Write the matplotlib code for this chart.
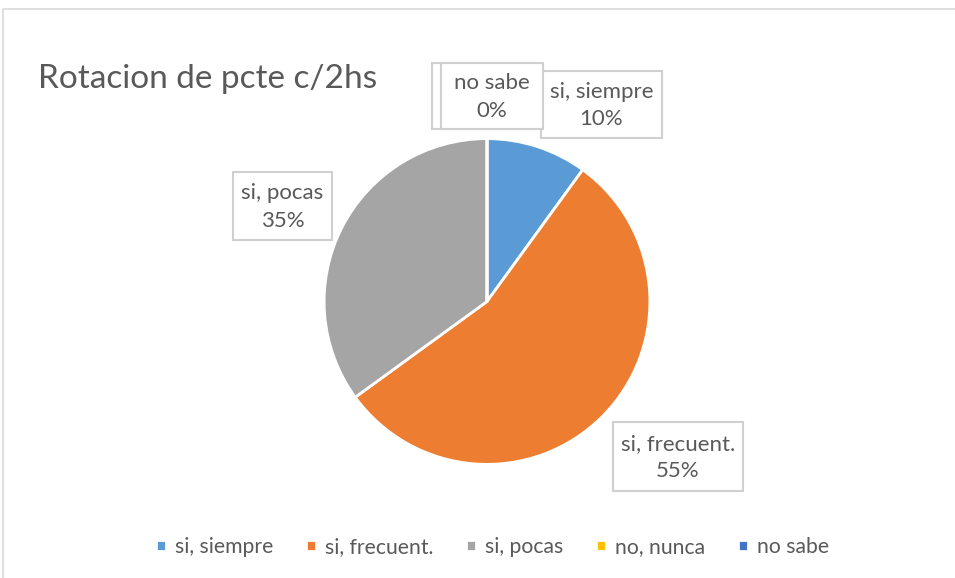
import matplotlib
matplotlib.use("Agg")
from matplotlib import pyplot as plt
from matplotlib.patches import Rectangle

# datos
categorias = ['si, siempre', 'si, frecuent.', 'si, pocas', 'no, nunca', 'no sabe']
valores = [10, 55, 35, 0, 0]
colores = ['#5B9BD5', '#ED7D31', '#A5A5A5', '#FFC000', '#4472C4']
titulo = 'Rotacion de pcte c/2hs'

# cajas de etiquetas (x0, y0, x1, y1 en pixeles desde arriba-izquierda)
# la de "no, nunca" queda tapada por la de "no sabe"
cajas = {
	'no, nunca': (432, 63, 533, 129),
	'no sabe': (441, 63, 543, 129),
	'si, siempre': (541, 71, 662, 138),
	'si, pocas': (233, 172, 332, 240),
	'si, frecuent.': (613, 422, 743, 491),
}
ocultas = ['no, nunca']

plt.rcParams['font.family'] = ['Lato', 'DejaVu Sans']
W, H = 955, 578
fig = plt.figure(figsize=(W / 100, H / 100), dpi=100)

# pie
cx, cy, r = 487, 301.5, 164.5
ax = fig.add_axes([(cx - r) / W, 1 - (cy + r) / H, 2 * r / W, 2 * r / H])
wedges, _ = ax.pie(valores, colors=colores, startangle=90, counterclock=False,
	radius=1, wedgeprops=dict(edgecolor='white', linewidth=2))
ax.set_xlim(-1.01, 1.01)
ax.set_ylim(-1.01, 1.01)
ax.set_aspect('equal')
ax.axis('off')

# capa superior en pixeles
ov = fig.add_axes([0, 0, 1, 1], zorder=5)
ov.set_xlim(0, W)
ov.set_ylim(H, 0)
ov.axis('off')
ov.patch.set_alpha(0)

# marco del grafico
ov.add_patch(Rectangle((3, 9), W + 10, H + 10, fill=False, edgecolor='#D9D9D9', linewidth=1.2))

ov.text(38, 79, titulo, fontsize=24, color='#595959', va='center', ha='left')

total = sum(valores)
for cat, val in zip(categorias, valores):
	x0, y0, x1, y1 = cajas[cat]
	ov.add_patch(Rectangle((x0, y0), x1 - x0, y1 - y0, facecolor='white',
		edgecolor='#D0D0D0', linewidth=1.5))
	if cat in ocultas:
		continue
	ov.text((x0 + x1) / 2, (y0 + y1) / 2 + 1, '%s\n%d%%' % (cat, round(val * 100 / total)),
		ha='center', va='center', fontsize=16, color='#595959', linespacing=1.45)

fig.legend(wedges, categorias, loc='center', bbox_to_anchor=(cx / W + 0.006, 1 - 547 / H),
	ncol=5, frameon=False, fontsize=15.2, handlelength=0.45, handleheight=0.45,
	handletextpad=0.45, columnspacing=1.55, labelcolor='#595959')

fig.savefig('out.png', dpi=100)
